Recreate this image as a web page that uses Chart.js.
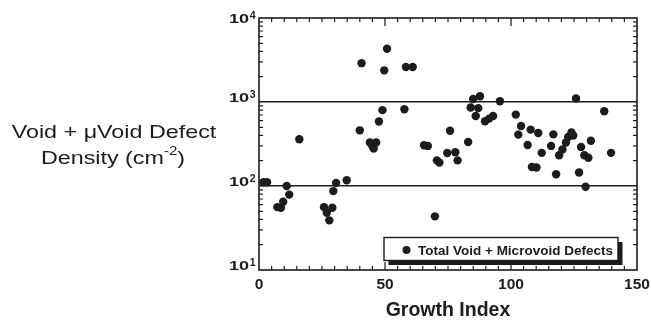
<!DOCTYPE html>
<html>
<head>
<meta charset="utf-8">
<script src="https://cdn.jsdelivr.net/npm/chart.js@4.4.1/dist/chart.umd.min.js"></script>
<style>
  html, body { margin: 0; padding: 0; background: #fff; }
  #wrap { width: 651px; height: 320px; position: relative; }
</style>
</head>
<body>
<div id="wrap"><canvas id="c" width="651" height="320"></canvas></div>
<script>
// growth index (x) and defect density in cm^-2 (y)
const growthIdx = [
  1.8, 3.2, 7.3, 8.7, 9.6, 11, 12, 16,
  25.8, 26.9, 27.9, 29.1, 29.5, 30.6, 34.8,
  40, 40.7, 44, 45, 45.5, 46.5, 47.6, 49, 49.7, 50.8,
  57.7, 58.3, 61, 65.5, 67, 69.8, 70.6, 71.6, 74.7, 75.8, 77.9, 78.8,
  83, 84, 85, 86, 87, 87.7, 89.7, 91.3, 92.9, 95.6,
  101.9, 102.9, 104, 106.6, 107.8, 108.3, 110.1, 110.8, 112.2, 115.9, 116.8, 117.9,
  119.1, 120.4, 121.8, 122.7, 124, 124.7, 125.8, 127, 127.8, 129.1, 129.6, 130.7, 131.7,
  137, 139.7
];
const defectDensity = [
  111, 111, 56, 55, 65, 100, 79, 360,
  56, 48, 39, 55, 87, 109, 117,
  460, 2900, 330, 300, 280, 330, 585, 800, 2380, 4300,
  820, 2610, 2610, 305, 300, 43.5, 202, 190, 247, 455, 252, 202,
  334, 860, 1085, 681, 845, 1170, 590, 634, 680, 1020,
  708, 409, 518, 308, 469, 168, 166, 428, 248, 300, 412, 138,
  232, 272, 329, 383, 433, 400, 1100, 145, 292, 232, 98, 217, 345,
  775, 248
];
const xTicks = [0, 50, 100, 150];
const yTicks = [10, 100, 1000, 10000];
const yTickExp = ['1', '2', '3', '4'];
const seriesLabel = 'Total Void + Microvoid Defects';
const yTitle = ['Void + \u03bcVoid Defect', 'Density (cm', '-2', ')'];
const xTitle = 'Growth Index';

const FONT = '"Liberation Sans", Arial, Helvetica, sans-serif';
const INK = '#1c1c1c';

function stretchText(ctx, txt, x, y, sx, align) {
  ctx.save();
  ctx.translate(x, y);
  ctx.scale(sx, 1);
  ctx.textAlign = align || 'left';
  ctx.fillText(txt, 0, 0);
  ctx.restore();
}

const decorPlugin = {
  id: 'decor',
  afterDraw(chart) {
    const ctx = chart.ctx;
    const a = chart.chartArea;
    const xs = chart.scales.x, ys = chart.scales.y;
    ctx.save();
    ctx.strokeStyle = INK;
    ctx.fillStyle = INK;

    // frame
    ctx.lineWidth = 1.6;
    ctx.strokeRect(a.left, a.top, a.right - a.left, a.bottom - a.top);

    // inward ticks on x (bottom + top)
    ctx.lineWidth = 1.2;
    ctx.beginPath();
    for (let v = 5; v < 150; v += 5) {
      const px = xs.getPixelForValue(v);
      const len = (v % 50 === 0) ? 8 : 4;
      ctx.moveTo(px, a.bottom); ctx.lineTo(px, a.bottom - len);
      ctx.moveTo(px, a.top); ctx.lineTo(px, a.top + len);
    }
    // inward minor ticks on y (left + right)
    for (let d = 10; d < 10000; d *= 10) {
      for (let k = 2; k <= 9; k++) {
        const py = ys.getPixelForValue(k * d);
        ctx.moveTo(a.left, py); ctx.lineTo(a.left + 4, py);
        ctx.moveTo(a.right, py); ctx.lineTo(a.right - 4, py);
      }
    }
    ctx.stroke();

    // x tick labels
    ctx.font = 'bold 15.5px ' + FONT;
    ctx.textBaseline = 'alphabetic';
    xTicks.forEach(v => {
      stretchText(ctx, String(v), xs.getPixelForValue(v), 288.5, 1, 'center');
    });

    // y tick labels 10^n
    yTicks.forEach((v, i) => {
      const py = ys.getPixelForValue(v);
      const base = Math.max(py, 22.5);
      ctx.font = 'bold 10.5px ' + FONT;
      const ew = ctx.measureText(yTickExp[i]).width;
      const expRight = a.left - 3.5;
      stretchText(ctx, yTickExp[i], expRight - ew, base - 4, 1, 'left');
      ctx.font = 'bold 12.5px ' + FONT;
      stretchText(ctx, '10', expRight - ew - 0.5, base, 1.45, 'right');
    });

    // x title
    ctx.font = 'bold 19.5px ' + FONT;
    stretchText(ctx, xTitle, (a.left + a.right) / 2, 316, 1, 'center');

    // y title (horizontal, two lines)
    ctx.font = '18.5px ' + FONT;
    const sx = 1.26;
    stretchText(ctx, yTitle[0], 114, 138.3, sx, 'center');
    const w1 = ctx.measureText(yTitle[1]).width * sx;
    ctx.font = '12px ' + FONT;
    const w2 = ctx.measureText(yTitle[2]).width * sx;
    ctx.font = '18.5px ' + FONT;
    const w3 = ctx.measureText(yTitle[3]).width * sx;
    let x0 = 113 - (w1 + w2 + w3) / 2;
    stretchText(ctx, yTitle[1], x0, 163.5, sx);
    ctx.font = '12px ' + FONT;
    stretchText(ctx, yTitle[2], x0 + w1, 155, sx);
    ctx.font = '18.5px ' + FONT;
    stretchText(ctx, yTitle[3], x0 + w1 + w2, 163.5, sx);

    // legend box with drop shadow
    const bx = xs.getPixelForValue(50) - 1, by = a.bottom - 32.5;
    const bw = 234, bh = 23;
    ctx.fillStyle = INK;
    ctx.fillRect(bx + 4.5, by + 4.5, bw, bh);
    ctx.fillStyle = '#fff';
    ctx.fillRect(bx, by, bw, bh);
    ctx.lineWidth = 1.4;
    ctx.strokeRect(bx, by, bw, bh);
    ctx.fillStyle = INK;
    ctx.beginPath();
    ctx.arc(bx + 22.5, by + 12.5, 4, 0, Math.PI * 2);
    ctx.fill();
    ctx.font = 'bold 13.5px ' + FONT;
    stretchText(ctx, seriesLabel, bx + 34, by + 17.5, 1, 'left');

    ctx.restore();
  }
};

new Chart(document.getElementById('c'), {
  type: 'scatter',
  data: {
    datasets: [{
      label: seriesLabel,
      data: growthIdx.map((x, i) => ({ x: x, y: defectDensity[i] })),
      pointRadius: 4.2,
      pointHoverRadius: 4.2,
      backgroundColor: INK,
      borderWidth: 0
    }]
  },
  options: {
    responsive: false,
    animation: false,
    events: [],
    layout: { padding: { top: 18, right: 14, left: 0, bottom: 0 } },
    plugins: { legend: { display: false }, tooltip: { enabled: false } },
    scales: {
      x: {
        type: 'linear', min: 0, max: 150,
        ticks: { display: false },
        grid: { display: false },
        border: { display: false },
        afterFit: s => { s.height = 50; }
      },
      y: {
        type: 'logarithmic', min: 10, max: 10000,
        afterBuildTicks: s => { s.ticks = yTicks.map(v => ({ value: v })); },
        ticks: { display: false },
        grid: {
          drawTicks: false,
          lineWidth: 1.5,
          color: c => (c.tick && (c.tick.value === 100 || c.tick.value === 1000)) ? INK : 'rgba(0,0,0,0)'
        },
        border: { display: false },
        afterFit: s => { s.width = 259; }
      }
    }
  },
  plugins: [decorPlugin]
});
</script>
</body>
</html>
